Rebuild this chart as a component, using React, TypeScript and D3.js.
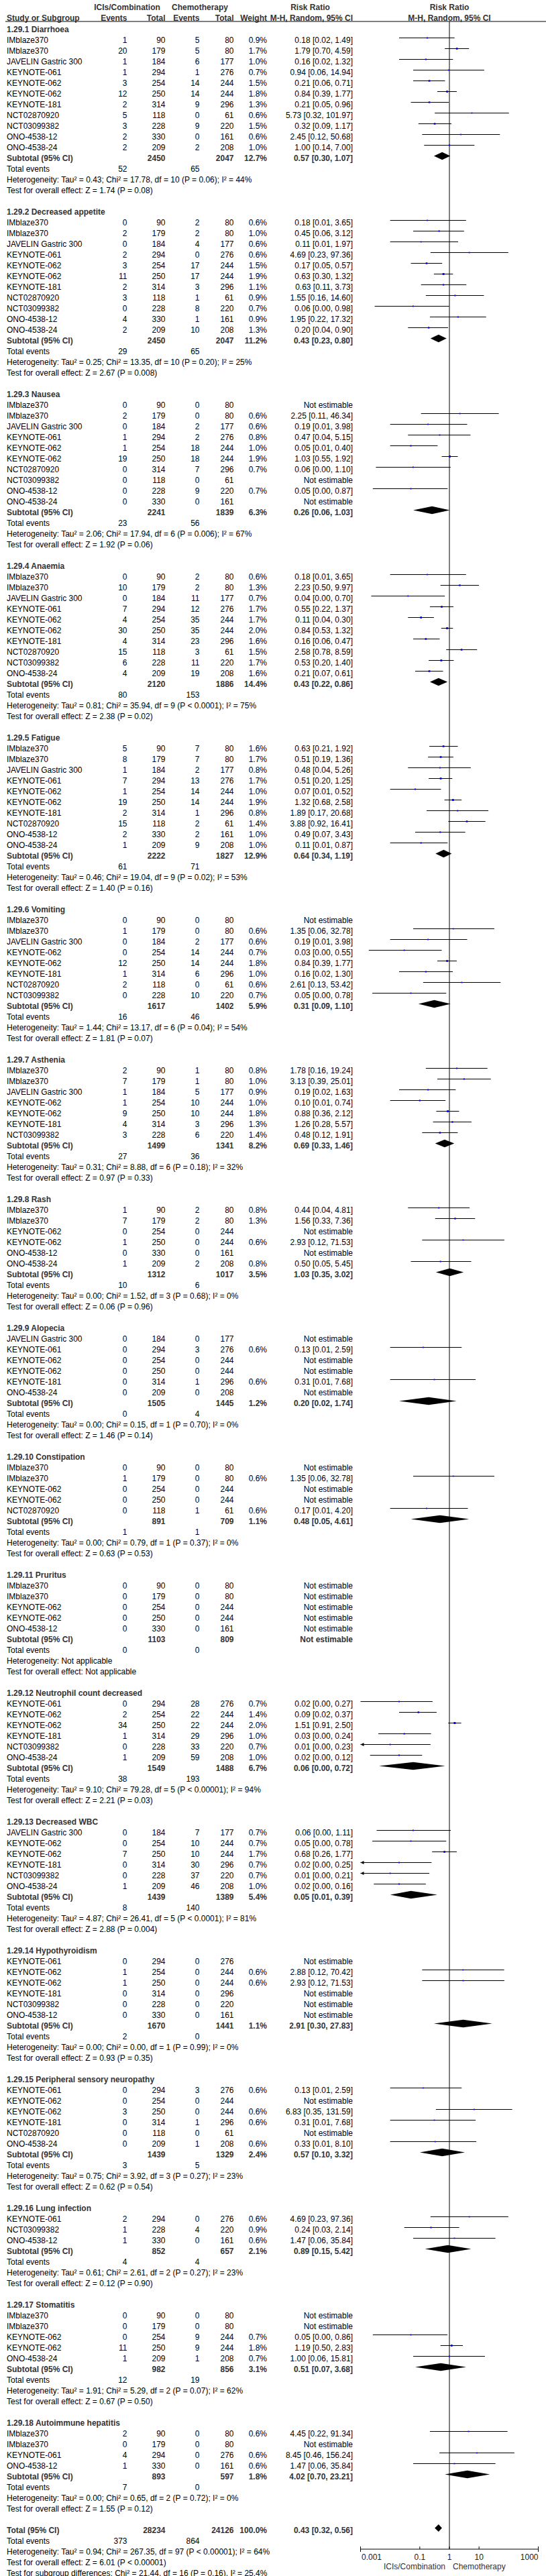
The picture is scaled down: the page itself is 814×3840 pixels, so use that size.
import React from "react";
import * as d3 from "d3";

type Study = [string, number, number, number, number, number | null, number | null, number | null, number | null];

const groupTitles = [
  "1.29.1 Diarrhoea", "1.29.2 Decreased appetite", "1.29.3 Nausea", "1.29.4 Anaemia",
  "1.29.5 Fatigue", "1.29.6 Vomiting", "1.29.7 Asthenia", "1.29.8 Rash", "1.29.9 Alopecia",
  "1.29.10 Constipation", "1.29.11 Pruritus", "1.29.12 Neutrophil count decreased",
  "1.29.13 Decreased WBC", "1.29.14 Hypothyroidism", "1.29.15 Peripheral sensory neuropathy",
  "1.29.16 Lung infection", "1.29.17 Stomatitis", "1.29.18 Autoimmune hepatitis",
];

const NE: [null, null, null, null] = [null, null, null, null];

const diarrhoea: Study[] = [
  ["IMblaze370", 1, 90, 5, 80, 0.9, 0.18, 0.02, 1.49],
  ["IMblaze370", 20, 179, 5, 80, 1.7, 1.79, 0.70, 4.59],
  ["JAVELIN Gastric 300", 1, 184, 6, 177, 1.0, 0.16, 0.02, 1.32],
  ["KEYNOTE-061", 1, 294, 1, 276, 0.7, 0.94, 0.06, 14.94],
  ["KEYNOTE-062", 3, 254, 14, 244, 1.5, 0.21, 0.06, 0.71],
  ["KEYNOTE-062", 12, 250, 14, 244, 1.8, 0.84, 0.39, 1.77],
  ["KEYNOTE-181", 2, 314, 9, 296, 1.3, 0.21, 0.05, 0.96],
  ["NCT02870920", 5, 118, 0, 61, 0.6, 5.73, 0.32, 101.97],
  ["NCT03099382", 3, 228, 9, 220, 1.5, 0.32, 0.09, 1.17],
  ["ONO-4538-12", 2, 330, 0, 161, 0.6, 2.45, 0.12, 50.68],
  ["ONO-4538-24", 2, 209, 2, 208, 1.0, 1.00, 0.14, 7.00],
];
const appetite: Study[] = [
  ["IMblaze370", 0, 90, 2, 80, 0.6, 0.18, 0.01, 3.65],
  ["IMblaze370", 2, 179, 2, 80, 1.0, 0.45, 0.06, 3.12],
  ["JAVELIN Gastric 300", 0, 184, 4, 177, 0.6, 0.11, 0.01, 1.97],
  ["KEYNOTE-061", 2, 294, 0, 276, 0.6, 4.69, 0.23, 97.36],
  ["KEYNOTE-062", 3, 254, 17, 244, 1.5, 0.17, 0.05, 0.57],
  ["KEYNOTE-062", 11, 250, 17, 244, 1.9, 0.63, 0.30, 1.32],
  ["KEYNOTE-181", 2, 314, 3, 296, 1.1, 0.63, 0.11, 3.73],
  ["NCT02870920", 3, 118, 1, 61, 0.9, 1.55, 0.16, 14.60],
  ["NCT03099382", 0, 228, 8, 220, 0.7, 0.06, 0.003, 0.98],
  ["ONO-4538-12", 4, 330, 1, 161, 0.9, 1.95, 0.22, 17.32],
  ["ONO-4538-24", 2, 209, 10, 208, 1.3, 0.20, 0.04, 0.90],
];
const nausea: Study[] = [
  ["IMblaze370", 0, 90, 0, 80, ...NE],
  ["IMblaze370", 2, 179, 0, 80, 0.6, 2.25, 0.11, 46.34],
  ["JAVELIN Gastric 300", 0, 184, 2, 177, 0.6, 0.19, 0.01, 3.98],
  ["KEYNOTE-061", 1, 294, 2, 276, 0.8, 0.47, 0.04, 5.15],
  ["KEYNOTE-062", 1, 254, 18, 244, 1.0, 0.05, 0.01, 0.40],
  ["KEYNOTE-062", 19, 250, 18, 244, 1.9, 1.03, 0.55, 1.92],
  ["NCT02870920", 0, 314, 7, 296, 0.7, 0.06, 0.0033, 1.10],
  ["NCT03099382", 0, 118, 0, 61, ...NE],
  ["ONO-4538-12", 0, 228, 9, 220, 0.7, 0.05, 0.0026, 0.87],
  ["ONO-4538-24", 0, 330, 0, 161, ...NE],
];
const anaemia: Study[] = [
  ["IMblaze370", 0, 90, 2, 80, 0.6, 0.18, 0.01, 3.65],
  ["IMblaze370", 10, 179, 2, 80, 1.3, 2.23, 0.50, 9.97],
  ["JAVELIN Gastric 300", 0, 184, 11, 177, 0.7, 0.04, 0.0023, 0.70],
  ["KEYNOTE-061", 7, 294, 12, 276, 1.7, 0.55, 0.22, 1.37],
  ["KEYNOTE-062", 4, 254, 35, 244, 1.7, 0.11, 0.04, 0.30],
  ["KEYNOTE-062", 30, 250, 35, 244, 2.0, 0.84, 0.53, 1.32],
  ["KEYNOTE-181", 4, 314, 23, 296, 1.6, 0.16, 0.06, 0.47],
  ["NCT02870920", 15, 118, 3, 61, 1.5, 2.58, 0.78, 8.59],
  ["NCT03099382", 6, 228, 11, 220, 1.7, 0.53, 0.20, 1.40],
  ["ONO-4538-24", 4, 209, 19, 208, 1.6, 0.21, 0.07, 0.61],
];
const fatigue: Study[] = [
  ["IMblaze370", 5, 90, 7, 80, 1.6, 0.63, 0.21, 1.92],
  ["IMblaze370", 8, 179, 7, 80, 1.7, 0.51, 0.19, 1.36],
  ["JAVELIN Gastric 300", 1, 184, 2, 177, 0.8, 0.48, 0.04, 5.26],
  ["KEYNOTE-061", 7, 294, 13, 276, 1.7, 0.51, 0.20, 1.25],
  ["KEYNOTE-062", 1, 254, 14, 244, 1.0, 0.07, 0.01, 0.52],
  ["KEYNOTE-062", 19, 250, 14, 244, 1.9, 1.32, 0.68, 2.58],
  ["KEYNOTE-181", 2, 314, 1, 296, 0.8, 1.89, 0.17, 20.68],
  ["NCT02870920", 15, 118, 2, 61, 1.4, 3.88, 0.92, 16.41],
  ["ONO-4538-12", 2, 330, 2, 161, 1.0, 0.49, 0.07, 3.43],
  ["ONO-4538-24", 1, 209, 9, 208, 1.0, 0.11, 0.01, 0.87],
];
const vomiting: Study[] = [
  ["IMblaze370", 0, 90, 0, 80, ...NE],
  ["IMblaze370", 1, 179, 0, 80, 0.6, 1.35, 0.06, 32.78],
  ["JAVELIN Gastric 300", 0, 184, 2, 177, 0.6, 0.19, 0.01, 3.98],
  ["KEYNOTE-062", 0, 254, 14, 244, 0.7, 0.03, 0.0019, 0.55],
  ["KEYNOTE-062", 12, 250, 14, 244, 1.8, 0.84, 0.39, 1.77],
  ["KEYNOTE-181", 1, 314, 6, 296, 1.0, 0.16, 0.02, 1.30],
  ["NCT02870920", 2, 118, 0, 61, 0.6, 2.61, 0.13, 53.42],
  ["NCT03099382", 0, 228, 10, 220, 0.7, 0.05, 0.0025, 0.78],
];
const asthenia: Study[] = [
  ["IMblaze370", 2, 90, 1, 80, 0.8, 1.78, 0.16, 19.24],
  ["IMblaze370", 7, 179, 1, 80, 1.0, 3.13, 0.39, 25.01],
  ["JAVELIN Gastric 300", 1, 184, 5, 177, 0.9, 0.19, 0.02, 1.63],
  ["KEYNOTE-062", 1, 254, 10, 244, 1.0, 0.10, 0.01, 0.74],
  ["KEYNOTE-062", 9, 250, 10, 244, 1.8, 0.88, 0.36, 2.12],
  ["KEYNOTE-181", 4, 314, 3, 296, 1.3, 1.26, 0.28, 5.57],
  ["NCT03099382", 3, 228, 6, 220, 1.4, 0.48, 0.12, 1.91],
];
const rash: Study[] = [
  ["IMblaze370", 1, 90, 2, 80, 0.8, 0.44, 0.04, 4.81],
  ["IMblaze370", 7, 179, 2, 80, 1.3, 1.56, 0.33, 7.36],
  ["KEYNOTE-062", 0, 254, 0, 244, ...NE],
  ["KEYNOTE-062", 1, 250, 0, 244, 0.6, 2.93, 0.12, 71.53],
  ["ONO-4538-12", 0, 330, 0, 161, ...NE],
  ["ONO-4538-24", 1, 209, 2, 208, 0.8, 0.50, 0.05, 5.45],
];
const alopecia: Study[] = [
  ["JAVELIN Gastric 300", 0, 184, 0, 177, ...NE],
  ["KEYNOTE-061", 0, 294, 3, 276, 0.6, 0.13, 0.01, 2.59],
  ["KEYNOTE-062", 0, 254, 0, 244, ...NE],
  ["KEYNOTE-062", 0, 250, 0, 244, ...NE],
  ["KEYNOTE-181", 0, 314, 1, 296, 0.6, 0.31, 0.01, 7.68],
  ["ONO-4538-24", 0, 209, 0, 208, ...NE],
];
const constipation: Study[] = [
  ["IMblaze370", 0, 90, 0, 80, ...NE],
  ["IMblaze370", 1, 179, 0, 80, 0.6, 1.35, 0.06, 32.78],
  ["KEYNOTE-062", 0, 254, 0, 244, ...NE],
  ["KEYNOTE-062", 0, 250, 0, 244, ...NE],
  ["NCT02870920", 0, 118, 1, 61, 0.6, 0.17, 0.01, 4.20],
];
const pruritus: Study[] = [
  ["IMblaze370", 0, 90, 0, 80, ...NE],
  ["IMblaze370", 0, 179, 0, 80, ...NE],
  ["KEYNOTE-062", 0, 254, 0, 244, ...NE],
  ["KEYNOTE-062", 0, 250, 0, 244, ...NE],
  ["ONO-4538-12", 0, 330, 0, 161, ...NE],
];
const neutrophil: Study[] = [
  ["KEYNOTE-061", 0, 294, 28, 276, 0.7, 0.02, 0.001, 0.27],
  ["KEYNOTE-062", 2, 254, 22, 244, 1.4, 0.09, 0.02, 0.37],
  ["KEYNOTE-062", 34, 250, 22, 244, 2.0, 1.51, 0.91, 2.50],
  ["KEYNOTE-181", 1, 314, 29, 296, 1.0, 0.03, 0.004, 0.24],
  ["NCT03099382", 0, 228, 33, 220, 0.7, 0.01, 0.0005, 0.23],
  ["ONO-4538-24", 1, 209, 59, 208, 1.0, 0.02, 0.0021, 0.12],
];
const wbc: Study[] = [
  ["JAVELIN Gastric 300", 0, 184, 7, 177, 0.7, 0.06, 0.0035, 1.11],
  ["KEYNOTE-062", 0, 254, 10, 244, 0.7, 0.05, 0.0025, 0.78],
  ["KEYNOTE-062", 7, 250, 10, 244, 1.7, 0.68, 0.26, 1.77],
  ["KEYNOTE-181", 0, 314, 30, 296, 0.7, 0.02, 0.0007, 0.25],
  ["NCT03099382", 0, 228, 37, 220, 0.7, 0.01, 0.0004, 0.21],
  ["ONO-4538-24", 1, 209, 46, 208, 1.0, 0.02, 0.0028, 0.16],
];
const hypothyroidism: Study[] = [
  ["KEYNOTE-061", 0, 294, 0, 276, ...NE],
  ["KEYNOTE-062", 1, 254, 0, 244, 0.6, 2.88, 0.12, 70.42],
  ["KEYNOTE-062", 1, 250, 0, 244, 0.6, 2.93, 0.12, 71.53],
  ["KEYNOTE-181", 0, 314, 0, 296, ...NE],
  ["NCT03099382", 0, 228, 0, 220, ...NE],
  ["ONO-4538-12", 0, 330, 0, 161, ...NE],
];
const neuropathy: Study[] = [
  ["KEYNOTE-061", 0, 294, 3, 276, 0.6, 0.13, 0.01, 2.59],
  ["KEYNOTE-062", 0, 254, 0, 244, ...NE],
  ["KEYNOTE-062", 3, 250, 0, 244, 0.6, 6.83, 0.35, 131.59],
  ["KEYNOTE-181", 0, 314, 1, 296, 0.6, 0.31, 0.01, 7.68],
  ["NCT02870920", 0, 118, 0, 61, ...NE],
  ["ONO-4538-24", 0, 209, 1, 208, 0.6, 0.33, 0.01, 8.10],
];
const lungInfection: Study[] = [
  ["KEYNOTE-061", 2, 294, 0, 276, 0.6, 4.69, 0.23, 97.36],
  ["NCT03099382", 1, 228, 4, 220, 0.9, 0.24, 0.03, 2.14],
  ["ONO-4538-12", 1, 330, 0, 161, 0.6, 1.47, 0.06, 35.84],
];
const stomatitis: Study[] = [
  ["IMblaze370", 0, 90, 0, 80, ...NE],
  ["IMblaze370", 0, 179, 0, 80, ...NE],
  ["KEYNOTE-062", 0, 254, 9, 244, 0.7, 0.05, 0.0026, 0.86],
  ["KEYNOTE-062", 11, 250, 9, 244, 1.8, 1.19, 0.50, 2.83],
  ["ONO-4538-24", 1, 209, 1, 208, 0.7, 1.00, 0.06, 15.81],
];
const hepatitis: Study[] = [
  ["IMblaze370", 2, 90, 0, 80, 0.6, 4.45, 0.22, 91.34],
  ["IMblaze370", 0, 179, 0, 80, ...NE],
  ["KEYNOTE-061", 4, 294, 0, 276, 0.6, 8.45, 0.46, 156.24],
  ["ONO-4538-12", 1, 330, 0, 161, 0.6, 1.47, 0.06, 35.84],
];

const groupStudies = [diarrhoea, appetite, nausea, anaemia, fatigue, vomiting, asthenia, rash, alopecia,
  constipation, pruritus, neutrophil, wbc, hypothyroidism, neuropathy, lungInfection, stomatitis, hepatitis];

// [total1, total2, weight, rr, lo, hi]
const subtotals: [number, number, number | null, number | null, number | null, number | null][] = [
  [2450, 2047, 12.7, 0.57, 0.30, 1.07],
  [2450, 2047, 11.2, 0.43, 0.23, 0.80],
  [2241, 1839, 6.3, 0.26, 0.06, 1.03],
  [2120, 1886, 14.4, 0.43, 0.22, 0.86],
  [2222, 1827, 12.9, 0.64, 0.34, 1.19],
  [1617, 1402, 5.9, 0.31, 0.09, 1.10],
  [1499, 1341, 8.2, 0.69, 0.33, 1.46],
  [1312, 1017, 3.5, 1.03, 0.35, 3.02],
  [1505, 1445, 1.2, 0.20, 0.02, 1.74],
  [891, 709, 1.1, 0.48, 0.05, 4.61],
  [1103, 809, null, null, null, null],
  [1549, 1488, 6.7, 0.06, 0.0042, 0.72],
  [1439, 1389, 5.4, 0.05, 0.01, 0.39],
  [1670, 1441, 1.1, 2.91, 0.30, 27.83],
  [1439, 1329, 2.4, 0.57, 0.10, 3.32],
  [852, 657, 2.1, 0.89, 0.15, 5.42],
  [982, 856, 3.1, 0.51, 0.07, 3.68],
  [893, 597, 1.8, 4.02, 0.70, 23.21],
];

const totalEvents: [number, number][] = [
  [52, 65], [29, 65], [23, 56], [80, 153], [61, 71], [16, 46], [27, 36], [10, 6], [0, 4],
  [1, 1], [0, 0], [38, 193], [8, 140], [2, 0], [3, 5], [4, 4], [12, 19], [7, 0],
];

const heterogeneity = [
  "Tau² = 0.43; Chi² = 17.78, df = 10 (P = 0.06); I² = 44%",
  "Tau² = 0.25; Chi² = 13.35, df = 10 (P = 0.20); I² = 25%",
  "Tau² = 2.06; Chi² = 17.94, df = 6 (P = 0.006); I² = 67%",
  "Tau² = 0.81; Chi² = 35.94, df = 9 (P < 0.0001); I² = 75%",
  "Tau² = 0.46; Chi² = 19.04, df = 9 (P = 0.02); I² = 53%",
  "Tau² = 1.44; Chi² = 13.17, df = 6 (P = 0.04); I² = 54%",
  "Tau² = 0.31; Chi² = 8.88, df = 6 (P = 0.18); I² = 32%",
  "Tau² = 0.00; Chi² = 1.52, df = 3 (P = 0.68); I² = 0%",
  "Tau² = 0.00; Chi² = 0.15, df = 1 (P = 0.70); I² = 0%",
  "Tau² = 0.00; Chi² = 0.79, df = 1 (P = 0.37); I² = 0%",
  "Not applicable",
  "Tau² = 9.10; Chi² = 79.28, df = 5 (P < 0.00001); I² = 94%",
  "Tau² = 4.87; Chi² = 26.41, df = 5 (P < 0.0001); I² = 81%",
  "Tau² = 0.00; Chi² = 0.00, df = 1 (P = 0.99); I² = 0%",
  "Tau² = 0.75; Chi² = 3.92, df = 3 (P = 0.27); I² = 23%",
  "Tau² = 0.61; Chi² = 2.61, df = 2 (P = 0.27); I² = 23%",
  "Tau² = 1.91; Chi² = 5.29, df = 2 (P = 0.07); I² = 62%",
  "Tau² = 0.00; Chi² = 0.65, df = 2 (P = 0.72); I² = 0%",
];

const overallEffect = [
  "Z = 1.74 (P = 0.08)", "Z = 2.67 (P = 0.008)", "Z = 1.92 (P = 0.06)", "Z = 2.38 (P = 0.02)",
  "Z = 1.40 (P = 0.16)", "Z = 1.81 (P = 0.07)", "Z = 0.97 (P = 0.33)", "Z = 0.06 (P = 0.96)",
  "Z = 1.46 (P = 0.14)", "Z = 0.63 (P = 0.53)", "Not applicable", "Z = 2.21 (P = 0.03)",
  "Z = 2.88 (P = 0.004)", "Z = 0.93 (P = 0.35)", "Z = 0.62 (P = 0.54)", "Z = 0.12 (P = 0.90)",
  "Z = 0.67 (P = 0.50)", "Z = 1.55 (P = 0.12)",
];

const overallTotal: [number, number, number, number, number, number] = [28234, 24126, 100.0, 0.43, 0.32, 0.56];
const overallEvents: [number, number] = [373, 864];
const overallFooter = [
  "Heterogeneity: Tau² = 0.94; Chi² = 267.35, df = 97 (P < 0.00001); I² = 64%",
  "Test for overall effect: Z = 6.01 (P < 0.00001)",
  "Test for subgroup differences: Chi² = 21.44, df = 16 (P = 0.16), I² = 25.4%",
];
const axisTicks = [0.001, 0.1, 1, 10, 1000];
const axisTickLabels = ["0.001", "0.1", "1", "10", "1000"];

const FONT = "'Liberation Sans', Arial, Helvetica, sans-serif";
const FS = 12;
const BOLD_COLOR = "#333";

export default function App() {
  const W = 814, H = 3840;
  const x = d3.scaleLog().domain([0.001, 1000]).range([537.5, 802.5]);
  const COL = { name: 10, ev1: 189.5, n1: 246.5, ev2: 297.5, n2: 348.5, wt: 398, ci: 526 };
  const cy = (r: number) => 43.5 + 16 * r;
  const base = (r: number) => cy(r) + 4.3;
  const my = (r: number) => cy(r) - 3;
  const ci = (rr: number, lo: number, hi: number) => `${rr.toFixed(2)} [${lo.toFixed(2)}, ${hi.toFixed(2)}]`;

  const texts: React.ReactNode[] = [];
  const marks: React.ReactNode[] = [];
  let k = 0;
  const T = (xp: number, yp: number, s: string, anchor = "start", bold = false, color?: string) => {
    texts.push(
      <text key={"t" + k++} x={xp} y={yp} textAnchor={anchor} fontWeight={bold ? "bold" : "normal"}
        fill={color || (bold ? BOLD_COLOR : "#000")}>{s}</text>
    );
  };
  const diamond = (y: number, rr: number, lo: number, hi: number, h: number) => {
    const x0 = x(Math.max(lo, 0.001)), x1 = x(rr), x2 = x(Math.min(hi, 1000));
    marks.push(<polygon key={"d" + k++} points={`${x0},${y} ${x1},${y - h} ${x2},${y} ${x1},${y + h}`} fill="#000" />);
  };

  let r = 0;
  groupTitles.forEach((title, gi) => {
    T(COL.name, base(r), title, "start", true);
    r++;
    groupStudies[gi].forEach((s) => {
      const [name, e1, n1, e2, n2, w, rr, lo, hi] = s;
      const b = base(r);
      T(COL.name, b, name);
      T(COL.ev1, b, String(e1), "end");
      T(COL.n1, b, String(n1), "end");
      T(COL.ev2, b, String(e2), "end");
      T(COL.n2, b, String(n2), "end");
      if (w != null && rr != null && lo != null && hi != null) {
        T(COL.wt, b, w.toFixed(1) + "%", "end");
        T(COL.ci, b, ci(rr, lo, hi), "end");
        const y = my(r);
        const xl = x(Math.max(lo, 0.001));
        const xh = x(Math.min(hi, 1000));
        marks.push(<line key={"l" + k++} x1={xl} x2={xh} y1={y} y2={y} stroke="#000" strokeWidth={1} />);
        if (lo < 0.001) {
          marks.push(<polygon key={"a" + k++} points={`${xl},${y} ${xl + 5},${y - 2.5} ${xl + 5},${y + 2.5}`} fill="#000" />);
        }
        const side = 1.4 + w * 0.8;
        marks.push(<rect key={"m" + k++} x={x(rr) - side / 2} y={y - side / 2} width={side} height={side} fill="#0000ff" />);
      } else {
        T(COL.ci, b, "Not estimable", "end");
      }
      r++;
    });
    const [t1, t2, w, rr, lo, hi] = subtotals[gi];
    const b = base(r);
    T(COL.name, b, "Subtotal (95% CI)", "start", true);
    T(COL.n1, b, String(t1), "end", true);
    T(COL.n2, b, String(t2), "end", true);
    if (w != null && rr != null && lo != null && hi != null) {
      T(COL.wt, b, w.toFixed(1) + "%", "end", true);
      T(COL.ci, b, ci(rr, lo, hi), "end", true);
      diamond(my(r), rr, lo, hi, 5.8);
    } else {
      T(COL.ci, b, "Not estimable", "end", true);
    }
    r++;
    T(COL.name, base(r), "Total events");
    T(COL.ev1, base(r), String(totalEvents[gi][0]), "end");
    T(COL.ev2, base(r), String(totalEvents[gi][1]), "end");
    r++;
    T(COL.name, base(r), "Heterogeneity: " + heterogeneity[gi]);
    r++;
    T(COL.name, base(r), "Test for overall effect: " + overallEffect[gi]);
    r++;
    r++; // blank
  });

  // overall total
  {
    const [t1, t2, w, rr, lo, hi] = overallTotal;
    const b = base(r);
    T(COL.name, b, "Total (95% CI)", "start", true);
    T(COL.n1, b, String(t1), "end", true);
    T(COL.n2, b, String(t2), "end", true);
    T(COL.wt, b, w.toFixed(1) + "%", "end", true);
    T(COL.ci, b, ci(rr, lo, hi), "end", true);
    diamond(my(r), rr, lo, hi, 5.5);
    r++;
    T(COL.name, base(r), "Total events");
    T(COL.ev1, base(r), String(overallEvents[0]), "end");
    T(COL.ev2, base(r), String(overallEvents[1]), "end");
    r++;
    overallFooter.forEach((s) => { T(COL.name, base(r), s); r++; });
  }

  const axisY = 3800;
  const lineTop = 32;

  return (
    <div style={{ margin: 0, padding: 0 }}>
      <style>{`body{margin:0;background:#fff}`}</style>
      <svg width={W} height={H} viewBox={`0 0 ${W} ${H}`} style={{ display: "block", position: "absolute", left: 0, top: 0, background: "#fff" }}
        fontFamily={FONT} fontSize={FS}>
        <rect x={0} y={0} width={W} height={H} fill="#fff" />
        {/* headers */}
        <g fontWeight="bold" fill={BOLD_COLOR}>
          <text x={189.5} y={15.3} textAnchor="middle">ICIs/Combination</text>
          <text x={298} y={15.3} textAnchor="middle">Chemotherapy</text>
          <text x={462.5} y={15.3} textAnchor="middle">Risk Ratio</text>
          <text x={x(1)} y={15.3} textAnchor="middle">Risk Ratio</text>
          <text x={COL.name} y={30.5}>Study or Subgroup</text>
          <text x={COL.ev1} y={30.5} textAnchor="end">Events</text>
          <text x={COL.n1} y={30.5} textAnchor="end">Total</text>
          <text x={COL.ev2} y={30.5} textAnchor="end">Events</text>
          <text x={COL.n2} y={30.5} textAnchor="end">Total</text>
          <text x={COL.wt} y={30.5} textAnchor="end">Weight</text>
          <text x={COL.ci} y={30.5} textAnchor="end">M-H, Random, 95% CI</text>
          <text x={x(1)} y={30.5} textAnchor="middle">M-H, Random, 95% CI</text>
        </g>
        <line x1={8} x2={W} y1={lineTop} y2={lineTop} stroke="#000" strokeWidth={1} />
        {/* null line */}
        <line x1={x(1)} x2={x(1)} y1={lineTop} y2={axisY} stroke="#000" strokeWidth={1} />
        {texts}
        {marks}
        {/* axis */}
        <line x1={x(0.001)} x2={x(1000)} y1={axisY} y2={axisY} stroke="#000" strokeWidth={1} />
        {axisTicks.map((t, i) => {
          const end = i === 0 || i === axisTicks.length - 1;
          return (
            <line key={"tk" + i} x1={x(t)} x2={x(t)} y1={axisY - 4} y2={end ? axisY + 4 : axisY} stroke="#000" strokeWidth={1} />
          );
        })}
        {axisTicks.map((t, i) => {
          const anchor = i === 0 ? "start" : i === axisTicks.length - 1 ? "end" : "middle";
          const dx = i === 0 ? 1.5 : 0;
          return (
            <text key={"tl" + i} x={x(t) + dx} y={3816.3} textAnchor={anchor} fill="#222">{axisTickLabels[i]}</text>
          );
        })}
        <text x={x(1) - 6} y={3830.3} textAnchor="end" fill="#333">ICIs/Combination</text>
        <text x={x(1) + 5} y={3830.3} textAnchor="start" fill="#333">Chemotherapy</text>
      </svg>
    </div>
  );
}
